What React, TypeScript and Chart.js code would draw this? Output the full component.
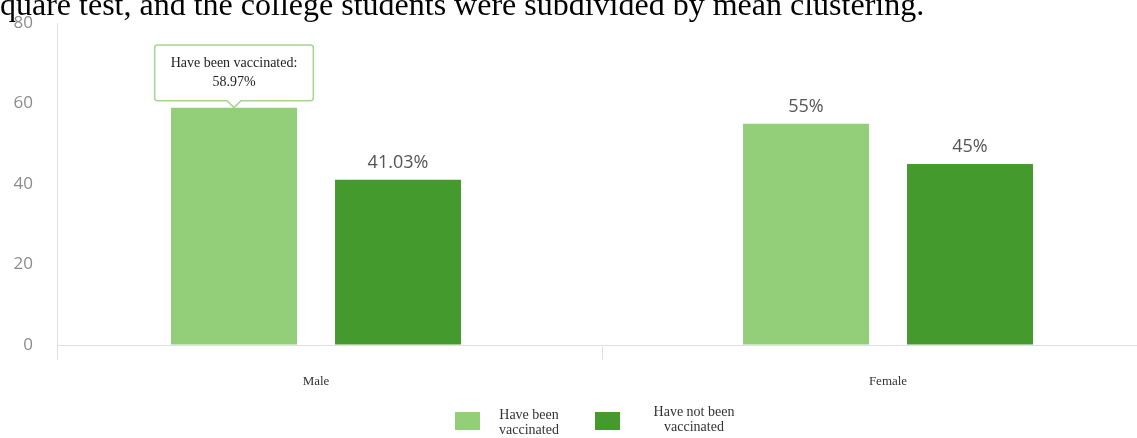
import React, { useEffect, useRef } from 'react';
import { Chart, registerables } from 'chart.js';

Chart.register(...registerables);

// ---- data ----
const headerText = 'quare test, and the college students were subdivided by mean clustering.';
const categories = ['Male', 'Female'];
const seriesNames = ['Have been vaccinated', 'Have not been vaccinated'];
const vaccinated = [58.97, 55];
const notVaccinated = [41.03, 45];
const seriesColors = ['#92cf78', '#449a2d'];
const yMin = 0;
const yMax = 80;
const yStep = 20;
const tooltipSeries = 0;
const tooltipCategory = 0;

const axisColor = '#dde0ea';

const valueLabels = {
  id: 'valueLabels',
  afterDatasetsDraw(chart: any) {
    const ctx = chart.ctx;
    ctx.save();
    ctx.font = '18px "Open Sans"';
    ctx.fillStyle = '#555555';
    ctx.textAlign = 'center';
    ctx.textBaseline = 'middle';
    chart.data.datasets.forEach((ds: any, di: number) => {
      const meta = chart.getDatasetMeta(di);
      meta.data.forEach((el: any, i: number) => {
        if (di === tooltipSeries && i === tooltipCategory) return;
        const v = ds.data[i].y;
        ctx.fillText(`${v}%`, el.x, el.y - 17);
      });
    });
    ctx.restore();
  },
};

export default function App() {
  const canvasRef = useRef<HTMLCanvasElement | null>(null);

  useEffect(() => {
    if (!canvasRef.current) return;
    const series = [vaccinated, notVaccinated];
    const chart = new Chart(canvasRef.current, {
      type: 'bar',
      data: {
        datasets: series.map((vals, si) => ({
          label: seriesNames[si],
          data: categories.map((_, i) => ({ x: i, y: vals[i] })),
          backgroundColor: seriesColors[si],
          borderWidth: 0,
          barPercentage: 0.768,
          categoryPercentage: 1.2664,
        })),
      },
      options: {
        animation: false,
        responsive: true,
        maintainAspectRatio: false,
        events: [],
        layout: { padding: { top: 23, left: 0, right: 0, bottom: 0 } },
        plugins: {
          legend: { display: false },
          tooltip: {
            enabled: true,
            backgroundColor: '#ffffff',
            borderColor: '#a6d491',
            borderWidth: 1.5,
            cornerRadius: 3,
            caretSize: 7,
            caretPadding: 0,
            padding: { x: 16, y: 10 },
            displayColors: false,
            yAlign: 'bottom',
            xAlign: 'center',
            bodyAlign: 'center',
            bodyColor: '#222222',
            bodyFont: { family: '"Liberation Serif"', size: 14 },
            callbacks: {
              title: () => '',
              label: (ctx: any) => [`${ctx.dataset.label}:`, `${ctx.parsed.y}%`],
            },
          },
        },
        scales: {
          x: {
            type: 'linear',
            offset: false,
            min: -0.4528,
            max: 1.4353,
            afterBuildTicks: (scale: any) => {
              scale.ticks = [
                { value: scale.min },
                ...categories.map((_, i) => ({ value: i })),
                { value: 0.5 },
              ].sort((a, b) => a.value - b.value);
            },
            afterFit: (scale: any) => {
              scale.height = 93;
            },
            grid: {
              offset: false,
              drawOnChartArea: false,
              drawTicks: true,
              tickLength: 15,
              color: (ctx: any) =>
                ctx.tick && Number.isInteger(ctx.tick.value) ? 'rgba(0,0,0,0)' : axisColor,
            },
            border: { display: true, color: axisColor, width: 1 },
            ticks: {
              autoSkip: false,
              maxRotation: 0,
              padding: 14,
              color: '#333333',
              font: { family: '"Liberation Serif"', size: 13 },
              callback: (v: any) => (Number.isInteger(v) && categories[v] ? categories[v] : ''),
            },
          },
          y: {
            min: yMin,
            max: yMax,
            afterFit: (scale: any) => {
              scale.width = 57;
              scale.paddingTop = 10;
              scale.paddingBottom = 10;
            },
            grid: { color: 'rgba(0,0,0,0)', drawTicks: false },
            border: { display: true, color: axisColor, width: 1 },
            ticks: {
              stepSize: yStep,
              padding: 24,
              color: '#8c8c8c',
              font: { family: '"Open Sans"', size: 17 },
            },
          },
        },
      },
      plugins: [valueLabels],
    } as any);

    chart.tooltip!.setActiveElements([{ datasetIndex: tooltipSeries, index: tooltipCategory }], { x: 0, y: 0 });
    chart.update();

    return () => chart.destroy();
  }, []);

  const legendPos = [
    { box: 455, text: 529, textTop: 407 },
    { box: 595, text: 694, textTop: 404 },
  ];

  return (
    <div style={{ position: 'absolute', left: 0, top: 0, width: 1137, height: 438, overflow: 'hidden', background: '#fff' }}>
      <canvas ref={canvasRef} style={{ position: 'absolute', left: 0, top: 0 }} />
      <div
        style={{
          position: 'absolute',
          left: 0,
          top: -12,
          whiteSpace: 'nowrap',
          fontFamily: '"Liberation Serif", serif',
          fontSize: 32,
          lineHeight: '32px',
          color: '#000',
        }}
      >
        {headerText}
      </div>
      {seriesNames.map((name, i) => (
        <React.Fragment key={name}>
          <div
            style={{
              position: 'absolute',
              left: legendPos[i].box,
              top: 412,
              width: 25,
              height: 18,
              background: seriesColors[i],
            }}
          />
          <div
            style={{
              position: 'absolute',
              left: legendPos[i].text - 60,
              top: legendPos[i].textTop,
              width: 120,
              textAlign: 'center',
              whiteSpace: 'pre-line',
              fontFamily: '"Liberation Serif", serif',
              fontSize: 14,
              lineHeight: '15px',
              color: '#333',
            }}
          >
            {name.replace(/ (\S+)$/, '\n$1')}
          </div>
        </React.Fragment>
      ))}
    </div>
  );
}
